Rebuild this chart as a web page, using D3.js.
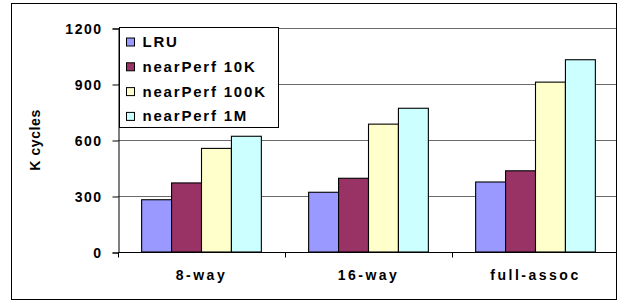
<!DOCTYPE html>
<html>
<head>
  <meta charset="utf-8">
  <title>K cycles</title>
  <script src="https://d3js.org/d3.v7.min.js"></script>
  <style>
    body { margin: 0; background: #fff; }
    text { font-family: "Liberation Sans", Arial, sans-serif; font-weight: bold; fill: #000; }
  </style>
</head>
<body>
  <svg id="grafico" width="618" height="302"></svg>

  <script>
    const width = 618;
    const height = 302;

    // dados
    const categorias = ["8-way", "16-way", "full-assoc"];
    const series = ["LRU", "nearPerf 10K", "nearPerf 100K", "nearPerf 1M"];
    const lru = [280, 320, 375];
    const near10K = [370, 395, 435];
    const near100K = [555, 685, 910];
    const near1M = [620, 770, 1030];
    const ticksY = [0, 300, 600, 900, 1200];
    const cores = ["#9999ff", "#993366", "#ffffcc", "#ccffff"];

    const valores = [lru, near10K, near100K, near1M];
    const dados = categorias.map((c, i) => ({
      cat: c,
      vals: series.map((s, j) => ({ serie: s, v: valores[j][i] }))
    }));

    const margem = { left: 118, top: 28, right: 619, bottom: 252 };

    const svg = d3.select("#grafico")
      .attr("width", width)
      .attr("height", height);

    // moldura externa
    svg.append("rect")
      .attr("x", 11.5).attr("y", 3.5)
      .attr("width", 605).attr("height", 296)
      .attr("fill", "#fff")
      .attr("stroke", "#000");

    const x0 = d3.scaleBand()
      .domain(categorias)
      .range([margem.left, margem.right])
      .paddingInner(0).paddingOuter(0);

    const x1 = d3.scaleBand()
      .domain(series)
      .range([0, x0.bandwidth()])
      .paddingInner(0).paddingOuter(0.79);

    const y = d3.scaleLinear()
      .domain([0, 1200])
      .range([margem.bottom, margem.top]);

    const cor = d3.scaleOrdinal().domain(series).range(cores);

    // linhas de grade
    svg.append("g")
      .selectAll("line")
      .data(ticksY.filter(t => t > 0))
      .enter().append("line")
      .attr("x1", margem.left).attr("x2", 616)
      .attr("y1", d => Math.round(y(d)) + 0.5)
      .attr("y2", d => Math.round(y(d)) + 0.5)
      .attr("stroke", "#6a6a6a");

    // barras
    const grupo = svg.selectAll(".grupo")
      .data(dados)
      .enter().append("g")
      .attr("class", "grupo")
      .attr("transform", d => `translate(${x0(d.cat)},0)`);

    grupo.selectAll("rect")
      .data(d => d.vals)
      .enter().append("rect")
      .attr("x", d => x1(d.serie))
      .attr("y", d => y(d.v))
      .attr("width", x1.bandwidth())
      .attr("height", d => y(0) - y(d.v))
      .attr("fill", d => cor(d.serie))
      .attr("stroke", "#000")
      .attr("stroke-width", 1.1);

    // eixo Y
    const eixoY = svg.append("g")
      .attr("transform", `translate(${margem.left + 0.5},0.5)`)
      .call(d3.axisLeft(y).tickValues(ticksY).tickFormat(d3.format("d")).tickSize(6).tickPadding(10));
    eixoY.select(".domain").attr("stroke", "#000");
    eixoY.selectAll("text")
      .style("font-size", "14px")
      .style("letter-spacing", "1.5px")
      .attr("dy", "0.34em");

    // eixo X
    const eixoX = svg.append("g")
      .attr("transform", `translate(0,${margem.bottom + 0.5})`);
    eixoX.append("line")
      .attr("x1", margem.left).attr("x2", 616)
      .attr("stroke", "#000");
    eixoX.selectAll(".tick")
      .data([margem.left].concat(categorias.slice(1).map(c => x0(c))))
      .enter().append("line")
      .attr("x1", d => Math.round(d) + 0.5).attr("x2", d => Math.round(d) + 0.5)
      .attr("y1", 0).attr("y2", 5)
      .attr("stroke", "#000");
    eixoX.selectAll("text")
      .data(categorias)
      .enter().append("text")
      .attr("x", d => x0(d) + x0.bandwidth() / 2)
      .attr("y", 27)
      .attr("text-anchor", "middle")
      .style("font-size", "14px")
      .style("letter-spacing", "2.5px")
      .text(d => d);

    // título do eixo Y
    svg.append("text")
      .attr("transform", "translate(39.5,140) rotate(-90)")
      .attr("text-anchor", "middle")
      .style("font-size", "14px")
      .style("letter-spacing", "0.6px")
      .text("K cycles");

    // legenda
    const legenda = svg.append("g")
      .attr("transform", "translate(119.5,27.5)");

    legenda.append("rect")
      .attr("width", 159).attr("height", 100)
      .attr("fill", "#fff")
      .attr("stroke", "#000");

    const item = legenda.selectAll(".item")
      .data(series)
      .enter().append("g")
      .attr("class", "item")
      .attr("transform", (_, i) => `translate(0,${14.5 + i * 24.8})`);

    item.append("rect")
      .attr("x", 7).attr("y", -4)
      .attr("width", 8).attr("height", 8)
      .attr("fill", d => cor(d))
      .attr("stroke", "#000");

    item.append("text")
      .attr("x", 23)
      .attr("y", 5)
      .style("font-size", "15px")
      .style("letter-spacing", "1.8px")
      .text(d => d);
  </script>
</body>
</html>
